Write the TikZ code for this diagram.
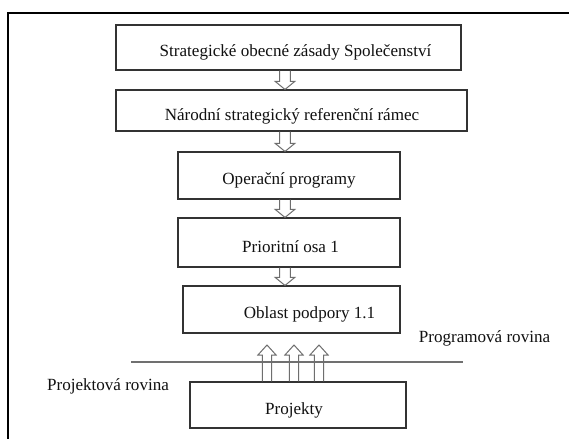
\documentclass[tikz,border=0pt]{standalone}
\usepackage{fontspec}
\setmainfont{Liberation Serif}
\usetikzlibrary{calc}
\definecolor{boxc}{HTML}{333333}
\definecolor{arrc}{HTML}{6E6E6E}
\definecolor{linec}{HTML}{707070}
\definecolor{txtc}{HTML}{111111}
\tikzset{
  box/.style={draw=boxc, line width=0.8pt, rectangle, inner sep=0pt},
  txt/.style={font=\fontsize{12.8}{14}\selectfont, text=txtc, inner sep=0pt},
  harrow/.style={draw=arrc, line width=0.75pt},
  frame/.style={draw=black, line width=1.6pt},
  level/.style={draw=linec, line width=0.8pt}
}
\newcommand{\hollowdown}[2]{\draw[harrow] let \p1=(#1), \p2=(#2) in
  (\x1-4.1pt,\y1) -- (\x1-4.1pt,\y2+6pt) -- (\x1-7.3pt,\y2+6pt) -- (\x1,\y2)
  -- (\x1+7.3pt,\y2+6pt) -- (\x1+4.1pt,\y2+6pt) -- (\x1+4.1pt,\y1);}
\newcommand{\hollowup}[2]{\draw[harrow] let \p1=(#1), \p2=(#2) in
  (\x1-3.4pt,\y1) -- (\x1-3.4pt,\y2-7.5pt) -- (\x1-6.8pt,\y2-7.5pt) -- (\x1,\y2)
  -- (\x1+6.8pt,\y2-7.5pt) -- (\x1+3.4pt,\y2-7.5pt) -- (\x1+3.4pt,\y1);}
\begin{document}
\begin{tikzpicture}[x=0.75pt,y=-0.75pt]
\useasboundingbox (0,0) rectangle (569,439);
\fill[white] (0,0) rectangle (569,439);
% outer frame
\draw[frame] (570,13) -- (8,13) -- (8,440);
% boxes
\node[box, minimum width=345*0.75pt, minimum height=45*0.75pt] (b1) at (288.5,47.5) {};
\node[box, minimum width=351*0.75pt, minimum height=41*0.75pt] (b2) at (291.5,110.5) {};
\node[box, minimum width=222*0.75pt, minimum height=47*0.75pt] (b3) at (289,175.5) {};
\node[box, minimum width=222*0.75pt, minimum height=49*0.75pt] (b4) at (289,242.5) {};
\node[box, minimum width=217*0.75pt, minimum height=47*0.75pt] (b5) at (291.5,309.5) {};
\node[box, minimum width=216*0.75pt, minimum height=46*0.75pt] (p) at (298,405) {};
% texts
\node[txt] (t1) at (295.5,52) {Strategické obecné zásady Společenství};
\node[txt] (t2) at (292,116) {Národní strategický referenční rámec};
\node[txt] (t3) at (289,180) {Operační programy};
\node[txt] (t4) at (290.5,247) {Prioritní osa 1};
\node[txt] (t5) at (309.5,314) {Oblast podpory 1.1};
\node[txt] (t6) at (294,410) {Projekty};
\node[txt] (prog) at (484.5,338) {Programová rovina};
\node[txt] (proj) at (108,386) {Projektová rovina};
% level line
\coordinate (l1) at (131,362);
\coordinate (l2) at (463,362);
\draw[level] (l1) -- (l2);
% down arrows
\coordinate (ax) at (285,0);
\hollowdown{b1.south -| ax}{b2.north -| ax}
\hollowdown{b2.south -| ax}{b3.north -| ax}
\hollowdown{b3.south -| ax}{b4.north -| ax}
\hollowdown{b4.south -| ax}{b5.north -| ax}
% up arrows
\coordinate (u1) at (267,345);
\coordinate (u2) at (294,345);
\coordinate (u3) at (319,345);
\hollowup{p.north -| u1}{u1}
\hollowup{p.north -| u2}{u2}
\hollowup{p.north -| u3}{u3}
\end{tikzpicture}
\end{document}
